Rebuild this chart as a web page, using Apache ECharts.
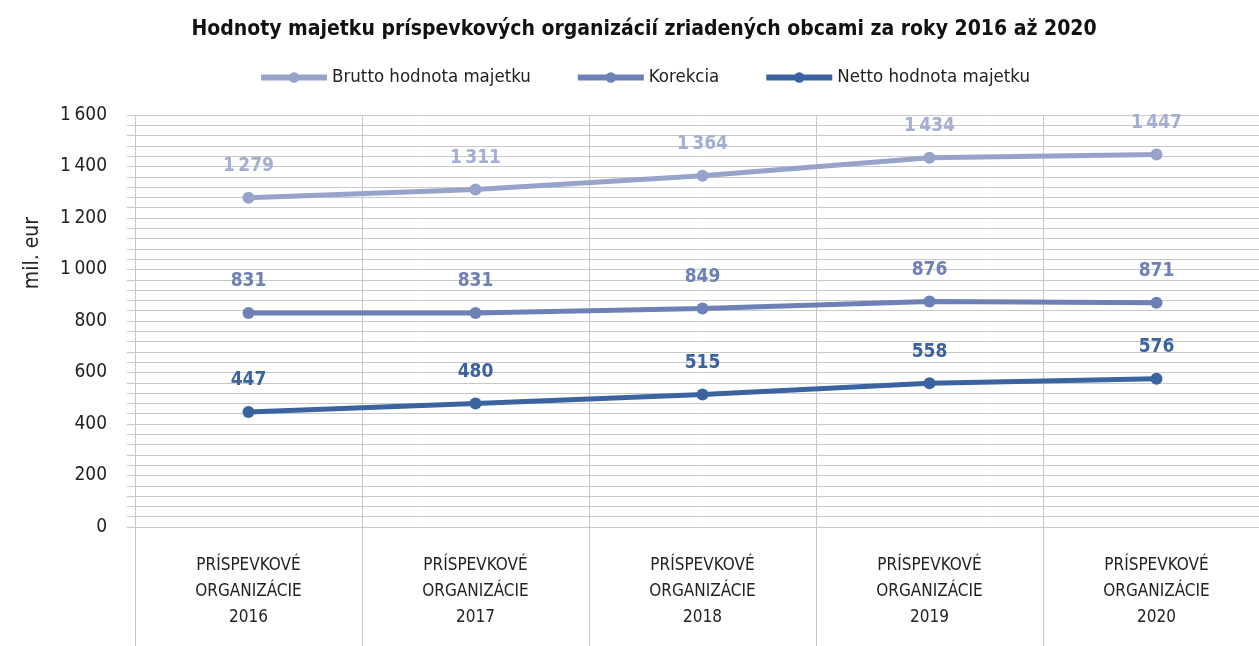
<!DOCTYPE html>
<html>
<head>
<meta charset="utf-8">
<script src="https://cdn.jsdelivr.net/npm/echarts@6/dist/echarts.min.js"></script>
<style>
  html, body { margin: 0; padding: 0; background: #fff; overflow: hidden; }
  #chart { width: 1288px; height: 646px; }
</style>
</head>
<body>
<div id="chart"></div>
<script>
const categories = [
  'PRÍSPEVKOVÉ\nORGANIZÁCIE\n2016',
  'PRÍSPEVKOVÉ\nORGANIZÁCIE\n2017',
  'PRÍSPEVKOVÉ\nORGANIZÁCIE\n2018',
  'PRÍSPEVKOVÉ\nORGANIZÁCIE\n2019',
  'PRÍSPEVKOVÉ\nORGANIZÁCIE\n2020',
];
const brutto = [1279, 1311, 1364, 1434, 1447];
const korekcia = [831, 831, 849, 876, 871];
const netto = [447, 480, 515, 558, 576];
const seriesNames = ['Brutto hodnota majetku', 'Korekcia', 'Netto hodnota majetku'];

const font = "'Liberation Sans Narrow', 'DejaVu Sans Condensed', 'Roboto', sans-serif";
const gridColor = '#c8c8c8';
const fmt = (v) => String(v).replace(/\B(?=(\d{3})+(?!\d))/g, '\u2009');

// the chart is a bit wider than the window, the right edge is cut off like in the source
const chart = echarts.init(document.getElementById('chart'));

const makeSeries = (name, data, color, labelColor) => ({
  name,
  type: 'line',
  data,
  symbol: 'circle',
  symbolSize: 12,
  lineStyle: { width: 5, color },
  itemStyle: { color },
  label: {
    show: true,
    position: 'top',
    distance: 16,
    color: labelColor,
    fontFamily: font,
    fontWeight: 'bold',
    fontSize: 19,
    formatter: (p) => fmt(p.value),
  },
});

chart.setOption({
  animation: false,
  title: {
    text: 'Hodnoty majetku príspevkových organizácií zriadených obcami za roky 2016 až 2020',
    left: 'center',
    top: 14,
    textStyle: { fontFamily: font, fontWeight: 'bold', fontSize: 21, color: '#111' },
  },
  legend: {
    top: 63,
    left: 'center',
    itemWidth: 66,
    itemHeight: 13,
    itemGap: 44,
    lineStyle: { width: 6 },
    textStyle: { fontFamily: font, fontSize: 18.5, color: '#222' },
    data: seriesNames,
  },
  graphic: [
    {
      type: 'text',
      left: 22,
      top: 217,
      rotation: Math.PI / 2,
      style: { text: 'mil. eur', fontFamily: font, fontSize: 21, fill: '#222' },
    },
  ],
  grid: { left: 135, top: 115, bottom: 119, right: 18 },
  xAxis: {
    type: 'category',
    data: categories,
    boundaryGap: true,
    axisLine: { show: true, lineStyle: { color: gridColor, width: 1 } },
    axisTick: { show: true, inside: false, length: 125, alignWithLabel: false, lineStyle: { color: gridColor } },
    splitLine: { show: true, interval: 0, lineStyle: { color: gridColor } },
    axisLabel: {
      interval: 0,
      margin: 26,
      fontFamily: font,
      fontSize: 17,
      lineHeight: 26,
      color: '#222',
      align: 'center',
    },
  },
  yAxis: {
    type: 'value',
    min: 0,
    max: 1600,
    interval: 200,
    axisLine: { show: false },
    axisTick: { show: true, length: 8, lineStyle: { color: gridColor } },
    minorTick: { show: true, splitNumber: 5, length: 8, lineStyle: { color: gridColor } },
    splitLine: { show: true, lineStyle: { color: gridColor, width: 1 } },
    minorSplitLine: { show: true, lineStyle: { color: gridColor, width: 1 } },
    axisLabel: {
      margin: 28,
      fontFamily: font,
      fontSize: 19,
      color: '#222',
      formatter: (v) => fmt(v),
    },
  },
  series: [
    makeSeries(seriesNames[0], brutto, '#97a3cb', '#a3aed3'),
    makeSeries(seriesNames[1], korekcia, '#6d81b7', '#6d81b7'),
    makeSeries(seriesNames[2], netto, '#3a63a0', '#3a63a0'),
  ],
});
</script>
</body>
</html>
